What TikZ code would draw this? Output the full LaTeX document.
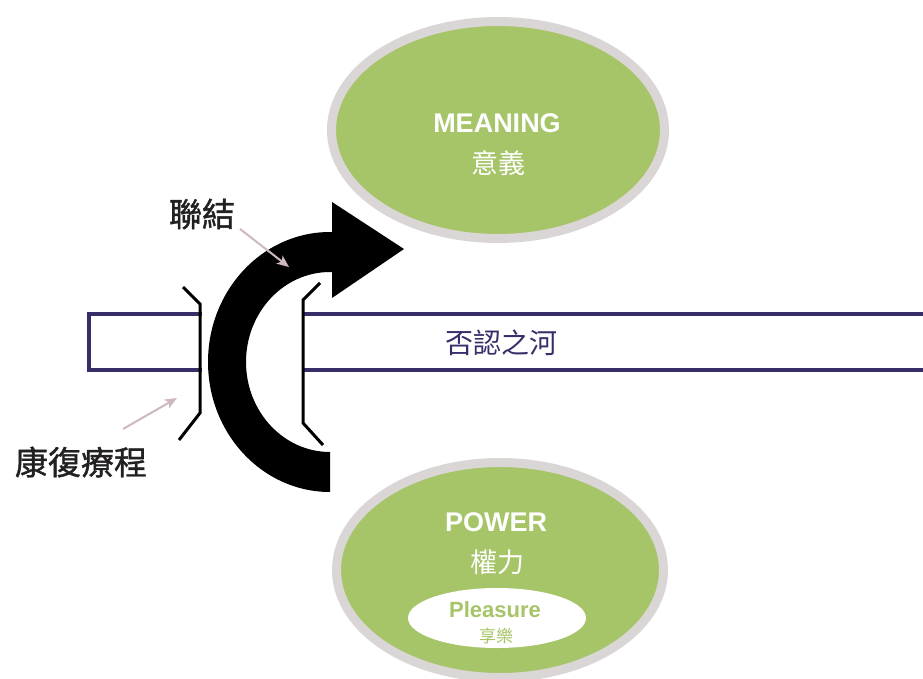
\documentclass[tikz,border=0pt]{standalone}
\usepackage{fontspec}
\setmainfont{Liberation Sans}
\newfontfamily\cjk{Noto Sans CJK TC}
\newfontfamily\cjkmed[FakeBold=1.2]{Noto Sans CJK TC}
\usetikzlibrary{shapes.geometric,arrows.meta}
\definecolor{leaf}{RGB}{166,196,104}
\definecolor{ring}{RGB}{218,214,214}
\definecolor{navy}{RGB}{55,45,105}
\definecolor{mauve}{RGB}{205,185,190}
\definecolor{ink}{RGB}{35,32,32}
\tikzset{
  blob/.style={ellipse, fill=leaf, draw=ring, line width=9pt, inner sep=0pt},
  title/.style={text=white, font=\bfseries\fontsize{27}{30}\selectfont, inner sep=0pt},
  cjktitle/.style={text=white, font=\cjk\fontsize{27}{30}\selectfont, inner sep=0pt},
  label/.style={text=ink, font=\cjkmed\fontsize{33}{36}\selectfont, inner sep=0pt},
  pointer/.style={draw=mauve, line width=2pt, -{Stealth[length=12pt,width=10pt,inset=3pt]}},
  riverline/.style={draw=navy, line width=4pt},
  bracket/.style={draw=black, line width=3pt},
}
\begin{document}
\begin{tikzpicture}[x=1pt,y=-1pt]
\useasboundingbox (0,0) rectangle (923,679);
\fill[white] (0,0) rectangle (923,679);
\clip (0,0) rectangle (923,679);
% river
\draw[riverline] (930,314) -- (89,314) -- (89,370) -- (930,370);
\node[text=navy, font=\cjk\fontsize{28}{30}\selectfont, inner sep=0pt] (rivertext) at (501,343) {否認之河};
% gap (bridge)
\fill[white] (201.5,305) rectangle (301.5,380);
% brackets
\draw[bracket] (183,287) -- (200,304) -- (200,413) -- (179,440);
\draw[bracket] (320,283) -- (303,300) -- (303,423) -- (323,445);
% big curved arrow
\fill[black] (330,492) arc[start angle=90, end angle=270, x radius=122, y radius=130]
  -- (332,232) -- (332,202) -- (404,249) -- (332,298) -- (332,272) -- (330,272)
  arc[start angle=270, end angle=90, x radius=84, y radius=90] -- cycle;
% meaning ellipse
\node[blob, minimum width=333pt, minimum height=217pt] (meaning) at (498,130) {};
\node[title] (meaningtxt) at (497,123) {MEANING};
\node[cjktitle] (meaningcjk) at (498,163) {意義};
% power ellipse
\node[blob, minimum width=327pt, minimum height=215pt] (power) at (500,570) {};
\node[title] (powertxt) at (496,522) {POWER};
\node[cjktitle] (powercjk) at (497,562) {權力};
\node[ellipse, fill=white, inner sep=0pt, minimum width=178pt, minimum height=60pt] (pleasure) at (497,618) {};
\node[text=leaf, font=\bfseries\fontsize{22}{26}\selectfont, inner sep=0pt] (pleasuretxt) at (495,610) {Pleasure};
\node[text=leaf, font=\cjk\fontsize{17}{20}\selectfont, inner sep=0pt] (pleasurecjk) at (496,636) {享樂};
% labels
\node[label] (link) at (202,214) {聯結};
\coordinate (linkfrom) at (240,229);
\coordinate (linkto) at (289,267);
\draw[pointer] (linkfrom) -- (linkto);
\node[label] (recovery) at (81,462) {康復療程};
\coordinate (recfrom) at (123,429);
\coordinate (recto) at (177,398);
\draw[pointer] (recfrom) -- (recto);
\end{tikzpicture}
\end{document}
